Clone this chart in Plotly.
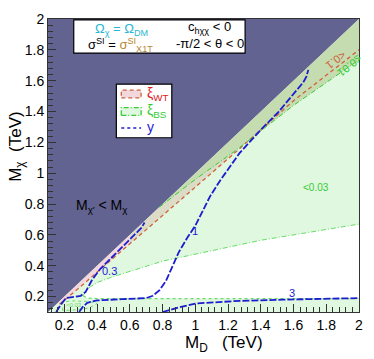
import plotly.graph_objects as go

# ---------------- data (TeV) ----------------
x_range = [0.1, 2.0]
y_range = [0.1, 2.0]

# kinematic boundary M_chi' = M_chi
diag_x = [0.1, 2.0]
diag_y = [0.1, 2.0]

# xi_WT <= 0.1 boundary (red dashed)
wt_x = [0.17, 0.30, 0.45, 0.60, 0.75, 1.00, 1.25, 1.60, 2.00]
wt_y = [0.15, 0.265, 0.405, 0.545, 0.68, 0.91, 1.14, 1.47, 1.80]

# xi_BS <= 0.01 boundary (green)
bs1_x = [0.78, 1.00, 1.25, 1.60, 2.00]
bs1_y = [0.78, 0.96, 1.15, 1.44, 1.735]

# xi_BS = 0.03 contour (white island), upper and lower branch
bs3_up_x = [0.315, 0.33, 0.36, 0.41, 0.50, 0.62, 0.80, 1.00, 1.40, 2.00]
bs3_up_y = [0.205, 0.235, 0.265, 0.295, 0.33, 0.37, 0.43, 0.475, 0.565, 0.67]
bs3_lo_x = [0.315, 0.34, 0.40, 1.00, 2.00]
bs3_lo_y = [0.205, 0.19, 0.187, 0.187, 0.187]

# small xi_BS < 0.03 island (bottom left)
bs3s_x = [0.19, 0.19, 0.25, 0.35, 0.40, 0.35, 0.25, 0.19]
bs3s_y = [0.11, 0.165, 0.172, 0.168, 0.155, 0.125, 0.112, 0.11]

# y contours (blue)
y03_x = [0.15, 0.18, 0.21, 0.26, 0.30, 0.33, 0.37, 0.42, 0.50, 0.58, 0.64, 0.67, 0.69]
y03_y = [0.10, 0.15, 0.19, 0.20, 0.205, 0.23, 0.31, 0.38, 0.465, 0.55, 0.615, 0.645, 0.68]
y1_x = [0.29, 0.31, 0.34, 0.40, 0.55, 0.70, 0.74, 0.78, 0.82, 0.86, 0.90, 0.95,
        1.00, 1.09, 1.15, 1.27, 1.39, 1.51, 1.60, 1.66, 1.68, 1.69]
y1_y = [0.10, 0.13, 0.16, 0.175, 0.183, 0.19, 0.205, 0.24, 0.30, 0.39, 0.49, 0.58,
        0.66, 0.85, 0.95, 1.13, 1.27, 1.40, 1.51, 1.59, 1.63, 1.67]
y3_x = [0.80, 0.90, 1.00, 1.10, 1.23, 1.53, 2.00]
y3_y = [0.10, 0.13, 0.155, 0.163, 0.17, 0.18, 0.19]

# ---------------- styles ----------------
DARK = "#636391"
LGREEN = "#e0f7e0"
PINK = "#f2d8dc"
BEIGE = "#dcdcc6"
OLIVE = "#c4dcb0"
RED = "#d0603c"
GREEN = "#33cc33"
GREEN2 = "#66dd66"
BLUE = "#1c1cd0"
FONT = "Liberation Sans, Arial, sans-serif"
BLUE_DASH = "7px,2px"
RED_DASH = "4px,3px"
GREEN_DASH = "5px,2px,1px,2px"

fig = go.Figure()


def poly(xs, ys, color):
    fig.add_trace(go.Scatter(x=xs, y=ys, fill="toself", fillcolor=color,
                             mode="none", hoverinfo="skip", showlegend=False))


def line(xs, ys, color, dash, width):
    fig.add_trace(go.Scatter(x=xs, y=ys, mode="lines",
                             line=dict(color=color, dash=dash, width=width),
                             hoverinfo="skip", showlegend=False))


# light green region below the diagonal
poly([diag_x[0], diag_x[1], x_range[1]], [diag_y[0], diag_y[1], y_range[0]], LGREEN)
# dark excluded region above diagonal
poly([diag_x[0], diag_x[1], x_range[0]], [diag_y[0], diag_y[1], y_range[1]], DARK)

# white island
poly(bs3_up_x + bs3_lo_x[::-1], bs3_up_y + bs3_lo_y[::-1], "white")

# pink band (xi_WT < 0.1, low masses)
pk = [i for i, v in enumerate(wt_x) if v <= 0.60]
poly([wt_x[pk[0]], wt_x[pk[-1]]] + [wt_x[i] for i in pk[::-1]],
     [wt_x[pk[0]], wt_x[pk[-1]]] + [wt_y[i] for i in pk[::-1]], PINK)

# beige band (overlap)
bg = [i for i, v in enumerate(wt_x) if 0.60 <= v <= 1.25]
gb = [i for i, v in enumerate(bs1_x) if v <= 1.25]
poly([0.60] + [bs1_x[i] for i in gb] + [wt_x[i] for i in bg[::-1]],
     [0.60] + [bs1_y[i] for i in gb] + [wt_y[i] for i in bg[::-1]], BEIGE)

# olive band (xi_BS < 0.01)
poly(bs1_x + [diag_x[1]], bs1_y + [diag_y[1]], OLIVE)

# boundary lines
line(wt_x, wt_y, RED, RED_DASH, 1.3)
line(bs1_x, bs1_y, GREEN, GREEN_DASH, 1.0)
line(bs3_up_x, bs3_up_y, GREEN2, GREEN_DASH, 1.0)
line(bs3_lo_x, bs3_lo_y, GREEN2, "dot", 1.2)
line(bs3s_x, bs3s_y, GREEN2, "dot", 1.0)

# y contours
line(y03_x, y03_y, BLUE, BLUE_DASH, 1.8)
line(y1_x, y1_y, BLUE, BLUE_DASH, 1.8)
line(y3_x, y3_y, BLUE, BLUE_DASH, 1.8)

ann = []


def txt(x, y, s, color="black", size=13, xref="x", yref="y", angle=0,
        xanchor="center", yanchor="middle"):
    ann.append(dict(x=x, y=y, xref=xref, yref=yref, text=s, showarrow=False,
                    textangle=angle, xanchor=xanchor, yanchor=yanchor,
                    font=dict(family=FONT, size=size, color=color)))


# contour labels
txt(0.475, 0.365, "0.3", BLUE, 11)
txt(1.0, 0.625, "1", BLUE, 11)
txt(1.59, 0.22, "3", BLUE, 11)
txt(1.74, 0.905, "<0.03", GREEN, 10)
txt(0.26, 0.145, "<0.03", GREEN2, 6)
txt(1.86, 1.73, "<0.1", RED, 11, angle=142)
txt(1.945, 1.70, "≤0.01", GREEN, 11, angle=142)
txt(0.43, 0.79, "M<sub>χ′</sub> < M<sub>χ</sub>", "black", 14)


def px2paper(px, py):
    return (px - 48) / 314, (312 - py) / 301


# axis titles
px, py = px2paper(16, 142)
txt(px, py, "M<sub>χ</sub>  (TeV)", "black", 17, "paper", "paper", angle=-90)
px, py = px2paper(226, 332)
txt(px, py, "M<sub>D</sub>   (TeV)", "black", 17, "paper", "paper", yanchor="top")

shapes = []
# top info box
x0, y0 = px2paper(74, 46)
x1, y1 = px2paper(247, 12)
shapes.append(dict(type="rect", xref="paper", yref="paper", x0=x0, y0=y0, x1=x1, y1=y1,
                   fillcolor="white", line=dict(color="black", width=1.2)))
px, py = px2paper(122, 22)
txt(px, py, "Ω<sub>χ</sub> = Ω<sub>DM</sub>", "#2ab8d0", 13, "paper", "paper")
px, py = px2paper(121, 38)
txt(px, py, "σ<sup>SI</sup> = <span style='color:#b8862e'>σ<sup>SI</sup><sub>X1T</sub></span>",
    "black", 13, "paper", "paper")
px, py = px2paper(211, 20)
txt(px, py, "c<sub>hχχ</sub> < 0", "black", 13, "paper", "paper")
px, py = px2paper(212, 36)
txt(px, py, "-π/2 < θ < 0", "black", 13, "paper", "paper")

# legend box
x0, y0 = px2paper(117, 133)
x1, y1 = px2paper(173, 78)
shapes.append(dict(type="rect", xref="paper", yref="paper", x0=x0, y0=y0, x1=x1, y1=y1,
                   fillcolor="white", line=dict(color="black", width=1.2)))
x0, y0 = px2paper(122, 92)
x1, y1 = px2paper(142, 84)
shapes.append(dict(type="rect", xref="paper", yref="paper", x0=x0, y0=y0, x1=x1, y1=y1,
                   fillcolor=PINK, line=dict(color=RED, width=1.3, dash=RED_DASH)))
x0, y0 = px2paper(122, 110)
x1, y1 = px2paper(142, 102)
shapes.append(dict(type="rect", xref="paper", yref="paper", x0=x0, y0=y0, x1=x1, y1=y1,
                   fillcolor=LGREEN, line=dict(color=GREEN, width=1.3, dash=GREEN_DASH)))
x0, y0 = px2paper(122, 123)
x1, y1 = px2paper(142, 123)
shapes.append(dict(type="line", xref="paper", yref="paper", x0=x0, y0=y0, x1=x1, y1=y1,
                   line=dict(color=BLUE, width=1.3, dash="dot")))
px, py = px2paper(146, 88)
txt(px, py, "ξ<sub>WT</sub>", "#e02020", 14, "paper", "paper", xanchor="left")
px, py = px2paper(146, 106)
txt(px, py, "ξ<sub>BS</sub>", "#33cc33", 14, "paper", "paper", xanchor="left")
px, py = px2paper(146, 122)
txt(px, py, "y", BLUE, 14, "paper", "paper", xanchor="left")

axis_common = dict(
    showgrid=False, zeroline=False, showline=True, linecolor="#333333", linewidth=1,
    mirror=True, ticks="inside", ticklen=8, tickwidth=1, tickcolor="#333333",
    dtick=0.2, tick0=0, tickfont=dict(family=FONT, size=14, color="black"),
    minor=dict(dtick=0.04, tick0=0, ticks="inside", ticklen=5, tickwidth=1,
               tickcolor="#333333", showgrid=False),
)

fig.update_layout(
    width=374, height=359,
    margin=dict(l=48, r=12, t=11, b=47),
    paper_bgcolor="white", plot_bgcolor="white",
    xaxis=dict(range=x_range, **axis_common),
    yaxis=dict(range=y_range, **axis_common),
    annotations=ann, shapes=shapes, showlegend=False,
)

fig.write_html("out.html",
               config={"displayModeBar": False},
               post_script="document.body.style.margin='0';"
                           "document.body.style.overflow='hidden';")
